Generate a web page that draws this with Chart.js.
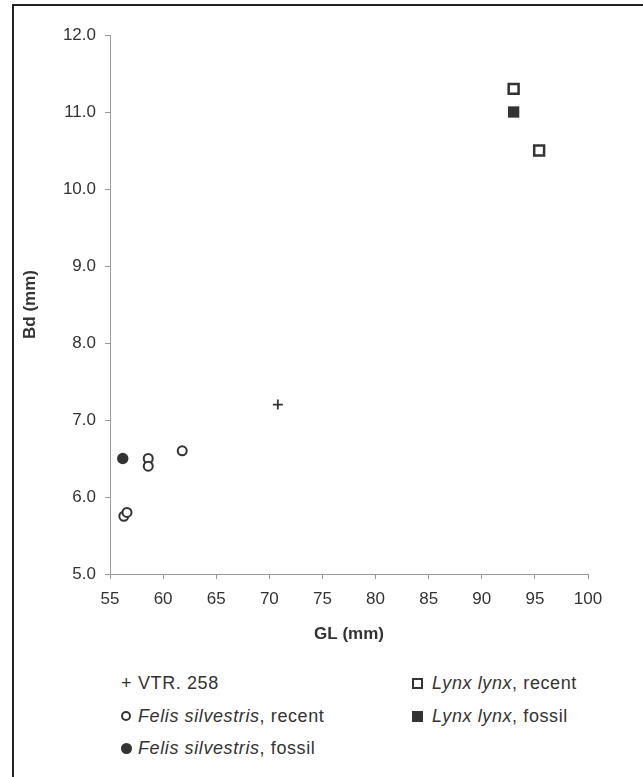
<!DOCTYPE html>
<html>
<head>
<meta charset="utf-8">
<script src="https://cdn.jsdelivr.net/npm/chart.js@4.4.0/dist/chart.umd.min.js"></script>
<style>
  html, body { margin: 0; padding: 0; background: #fff; }
  body { width: 643px; height: 777px; position: relative; overflow: hidden; font-family: "Liberation Sans", Arial, sans-serif; color: #333; }
  #frame { position: absolute; left: 12px; top: 4px; width: 700px; height: 800px; border-top: 2px solid #222; border-left: 2px solid #222; }
  #wrap { position: absolute; left: 0; top: 0; width: 643px; height: 660px; }
  .item { position: absolute; font-size: 18px; line-height: 22px; letter-spacing: 0.6px; white-space: nowrap; }
  .item i { font-style: italic; }
  .mk { position: absolute; box-sizing: border-box; }
  .plus { font-size: 18px; font-style: normal; letter-spacing: 0; }
  .ocirc { width: 10px; height: 10px; border: 2px solid #333; border-radius: 50%; }
  .fcirc { width: 11px; height: 11px; background: #333; border-radius: 50%; }
  .osq { width: 11px; height: 11px; border: 2px solid #333; }
  .fsq { width: 11px; height: 11px; background: #333; }
</style>
</head>
<body>
<div id="frame"></div>
<div id="wrap"><canvas id="scatter" width="643" height="660"></canvas></div>

<div class="item" style="left:121px; top:672px;"><span class="plus">+</span></div>
<div class="item" style="left:138px; top:672px;">VTR. 258</div>
<div class="mk ocirc" style="left:121px; top:711px;"></div>
<div class="item" style="left:138px; top:705px;"><i>Felis silvestris</i>, recent</div>
<div class="mk fcirc" style="left:121px; top:743px;"></div>
<div class="item" style="left:138px; top:737px;"><i>Felis silvestris</i>, fossil</div>

<div class="mk osq" style="left:412px; top:678px;"></div>
<div class="item" style="left:432px; top:672px;"><i>Lynx lynx</i>, recent</div>
<div class="mk fsq" style="left:412px; top:711px;"></div>
<div class="item" style="left:432px; top:705px;"><i>Lynx lynx</i>, fossil</div>

<script>
// GL (mm) on x, Bd (mm) on y
const vtrGL = [70.8];
const vtrBd = [7.2];
const felisRecentGL = [58.6, 58.6, 61.8, 56.3, 56.6];
const felisRecentBd = [6.5, 6.4, 6.6, 5.75, 5.8];
const felisFossilGL = [56.2];
const felisFossilBd = [6.5];
const lynxRecentGL = [93.0, 95.4];
const lynxRecentBd = [11.3, 10.5];
const lynxFossilGL = [93.0];
const lynxFossilBd = [11.0];

const xTicks = [55, 60, 65, 70, 75, 80, 85, 90, 95, 100];
const yTicks = [5, 6, 7, 8, 9, 10, 11, 12];

const ink = "#333333";
const axisGrey = "#9a9a9a";

function pts(xs, ys) {
  return xs.map((x, i) => ({ x: x, y: ys[i] }));
}

const ctx = document.getElementById("scatter").getContext("2d");

new Chart(ctx, {
  type: "scatter",
  data: {
    datasets: [
      {
        label: "VTR. 258",
        data: pts(vtrGL, vtrBd),
        pointStyle: "cross",
        pointRadius: 5,
        borderColor: ink,
        borderWidth: 1.8,
      },
      {
        label: "Felis silvestris, recent",
        data: pts(felisRecentGL, felisRecentBd),
        pointStyle: "circle",
        pointRadius: 4.5,
        backgroundColor: "#ffffff",
        borderColor: ink,
        borderWidth: 2,
      },
      {
        label: "Felis silvestris, fossil",
        data: pts(felisFossilGL, felisFossilBd),
        pointStyle: "circle",
        pointRadius: 5.7,
        backgroundColor: ink,
        borderColor: ink,
        borderWidth: 0,
      },
      {
        label: "Lynx lynx, recent",
        data: pts(lynxRecentGL, lynxRecentBd),
        pointStyle: "rect",
        pointRadius: 7,
        backgroundColor: "#ffffff",
        borderColor: ink,
        borderWidth: 2.5,
      },
      {
        label: "Lynx lynx, fossil",
        data: pts(lynxFossilGL, lynxFossilBd),
        pointStyle: "rect",
        pointRadius: 8,
        backgroundColor: ink,
        borderColor: ink,
        borderWidth: 0,
      },
    ],
  },
  options: {
    responsive: false,
    animation: false,
    layout: {
      padding: { top: 35, right: 55, bottom: 0, left: 0 },
    },
    plugins: {
      legend: { display: false },
      tooltip: { enabled: false },
    },
    scales: {
      x: {
        type: "linear",
        min: xTicks[0],
        max: xTicks[xTicks.length - 1],
        afterBuildTicks: (s) => { s.ticks = xTicks.map((v) => ({ value: v })); },
        afterFit: (s) => { s.height = 86; },
        grid: {
          drawOnChartArea: false,
          color: axisGrey,
          tickLength: 5,
        },
        border: { color: axisGrey, width: 1 },
        ticks: {
          color: ink,
          padding: 10,
          maxRotation: 0,
          font: { family: "Liberation Sans", size: 17 },
          callback: (v) => String(v),
        },
        title: {
          display: true,
          text: "GL (mm)",
          color: ink,
          font: { family: "Liberation Sans", size: 17, weight: "bold" },
          padding: { top: 0, bottom: 15 },
        },
      },
      y: {
        type: "linear",
        min: yTicks[0],
        max: yTicks[yTicks.length - 1],
        afterBuildTicks: (s) => { s.ticks = yTicks.map((v) => ({ value: v })); },
        afterFit: (s) => { s.width = 110; },
        grid: {
          drawOnChartArea: false,
          color: axisGrey,
          tickLength: 5,
        },
        border: { color: axisGrey, width: 1 },
        ticks: {
          color: ink,
          padding: 9,
          font: { family: "Liberation Sans", size: 17 },
          callback: (v) => v.toFixed(1),
        },
        title: {
          display: true,
          text: "Bd (mm)",
          color: ink,
          font: { family: "Liberation Sans", size: 17, weight: "bold" },
          padding: { top: 20, bottom: 0 },
        },
      },
    },
  },
});
</script>
</body>
</html>
